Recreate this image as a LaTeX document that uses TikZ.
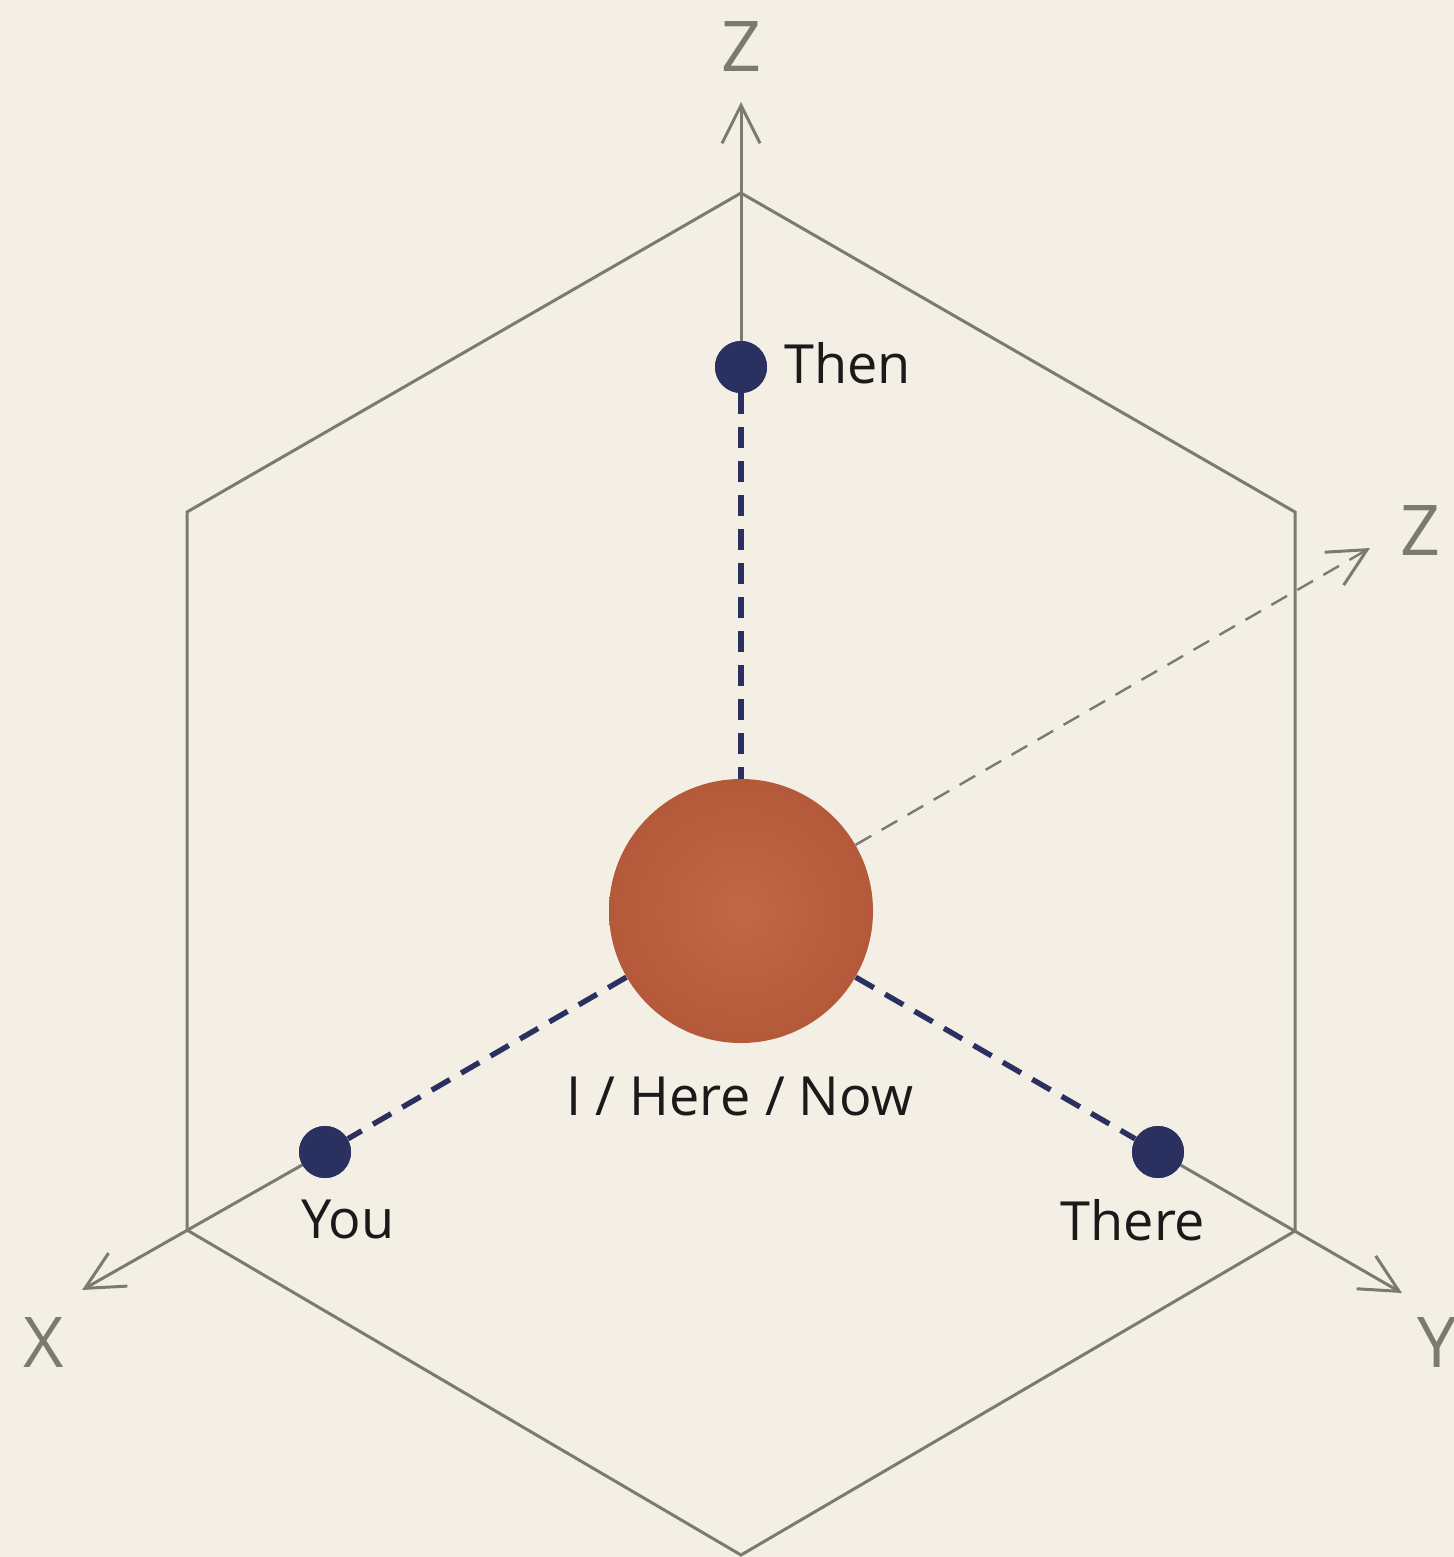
\documentclass[tikz,border=0pt]{standalone}
\usepackage{fontspec}
\setmainfont{Open Sans}
\usetikzlibrary{arrows.meta}
\definecolor{bg}{HTML}{F3EFE4}
\definecolor{axisgrey}{HTML}{7A7A72}
\definecolor{navy}{HTML}{2A3160}
\definecolor{rustlight}{HTML}{C06848}
\definecolor{rustdark}{HTML}{B4593A}
\definecolor{ink}{HTML}{1A1A1A}
\tikzset{
  frameline/.style={draw=axisgrey, line width=1.5pt, line join=miter},
  axisarrow/.style={draw=axisgrey, line width=1.5pt, -{Straight Barb[length=19pt,width=19pt,line width=1.5pt]}},
  zdash/.style={draw=axisgrey, line width=1.2pt, dash pattern=on 9pt off 6pt, -{Straight Barb[length=19pt,width=19pt,line width=1.5pt]}},
  navydash/.style={draw=navy, line width=2.7pt, dash pattern=on 10.5pt off 6.5pt},
  dotnode/.style={circle, fill=navy, draw=none, minimum size=26pt, inner sep=0pt},
  lbl/.style={text=ink, font=\fontsize{27}{33}\selectfont, inner sep=0pt},
  axlbl/.style={text=axisgrey, font=\fontsize{35}{40}\selectfont, inner sep=0pt},
}
\begin{document}
\begin{tikzpicture}[x=0.5pt,y=-0.5pt]
\fill[bg] (0,0) rectangle (1454,1557);
\useasboundingbox (0,0) rectangle (1454,1557);

% hexagon vertices
\coordinate (hT) at (741,193);
\coordinate (hUL) at (187,512);
\coordinate (hLL) at (187,1230);
\coordinate (hB) at (741,1555);
\coordinate (hLR) at (1295,1231);
\coordinate (hUR) at (1295,512);
\draw[frameline] (hT) -- (hUL) -- (hLL) -- (hB) -- (hLR) -- (hUR) -- cycle;

% axis tips
\coordinate (tipZ) at (741,102);
\coordinate (tipX) at (82,1290);
\coordinate (tipY) at (1402,1293);
\coordinate (tipZ2) at (1370,548);

% nodes
\node[circle, minimum size=132pt, inner sep=0pt, draw=none,
      inner color=rustlight, outer color=rustdark] (me) at (741,911) {};
\node[dotnode] (then) at (741,367) {};
\node[dotnode] (you) at (325,1152) {};
\node[dotnode] (there) at (1158,1152) {};

% solid grey axes
\draw[axisarrow] (then.north) -- (tipZ);
\draw[axisarrow] (you.center) -- (tipX);
\draw[axisarrow] (there.center) -- (tipY);
\draw[zdash] (me.30) -- (tipZ2);

% navy dashed connectors
\draw[navydash] (then.south) -- (me.north);
\draw[navydash] (me.210) -- (you.30);
\draw[navydash] (me.330) -- (there.150);

% redraw dots on top
\node[dotnode] at (then) {};
\node[dotnode] at (you) {};
\node[dotnode] at (there) {};

% labels
\node[lbl, anchor=base west] (tThen) at (784,383) {Then};
\node[lbl, anchor=base] (tYou) at (348,1238) {You};
\node[lbl, anchor=base] (tThere) at (1133,1240) {There};
\node[lbl, anchor=base] (tMe) at (740,1115) {I / Here / Now};

\node[axlbl, anchor=base] (lZ) at (741,72) {Z};
\node[axlbl, anchor=base] (lZ2) at (1420,555) {Z};
\node[axlbl, anchor=base] (lX) at (44,1367) {X};
\node[axlbl, anchor=base] (lY) at (1437,1367) {Y};
\end{tikzpicture}
\end{document}
